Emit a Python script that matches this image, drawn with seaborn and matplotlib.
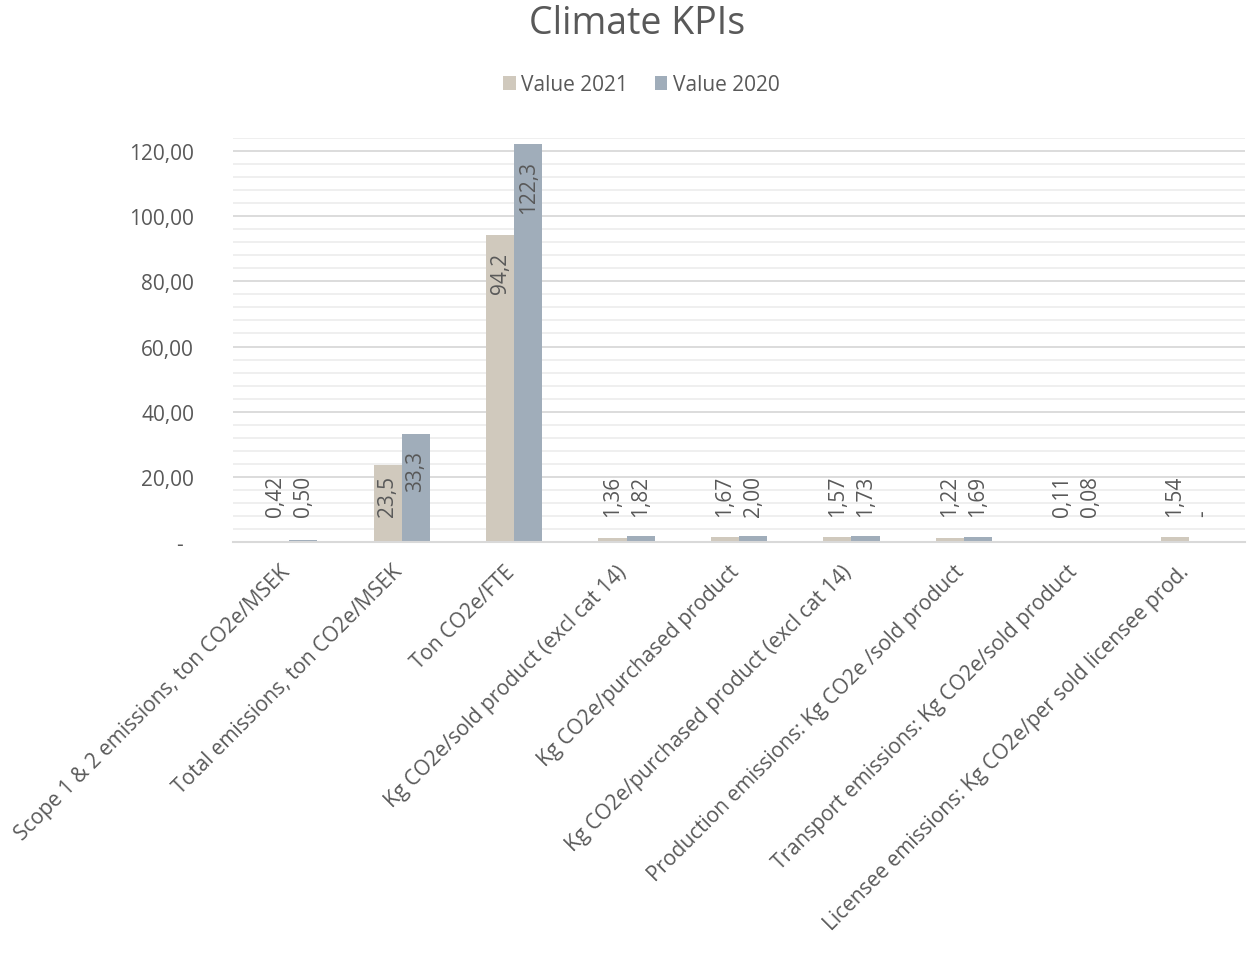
import matplotlib
matplotlib.use("Agg")
import matplotlib.pyplot as plt
import pandas as pd
import seaborn as sns
from matplotlib.ticker import MultipleLocator, FuncFormatter
from matplotlib.transforms import ScaledTranslation

# KPI categories and values per reporting year
categories = [
    "Scope 1 & 2 emissions, ton CO2e/MSEK",
    "Total emissions, ton CO2e/MSEK",
    "Ton CO2e/FTE",
    "Kg CO2e/sold product (excl cat 14)",
    "Kg CO2e/purchased product",
    "Kg CO2e/purchased product (excl cat 14)",
    "Production emissions: Kg CO2e /sold product",
    "Transport emissions: Kg CO2e/sold product",
    "Licensee emissions: Kg CO2e/per sold licensee prod.",
]
value_2021 = [0.42, 23.5, 94.2, 1.36, 1.67, 1.57, 1.22, 0.11, 1.54]
value_2020 = [0.50, 33.3, 122.3, 1.82, 2.00, 1.73, 1.69, 0.08, 0.0]
series_names = ["Value 2021", "Value 2020"]
series_colors = ["#D0C9BD", "#A0ADBA"]

df = pd.DataFrame({
    "KPI": categories * 2,
    "Series": [series_names[0]] * len(categories) + [series_names[1]] * len(categories),
    "Value": value_2021 + value_2020,
})

TEXT = "#595959"
FS = 15

sns.set_theme(style="white")
plt.rcParams["font.family"] = ["Open Sans", "DejaVu Sans"]

fig = plt.figure(figsize=(12.5, 9.54), dpi=100)
ax = fig.add_axes([0.1864, 0.4308, 0.8096, 0.4235])

sns.barplot(data=df, x="KPI", y="Value", hue="Series", palette=series_colors,
            width=0.5, saturation=1, errorbar=None, ax=ax, linewidth=0)

ax.set_ylim(0, 124)
ax.set_xlim(-0.5, len(categories) - 0.5)
ax.yaxis.set_major_locator(MultipleLocator(20))
ax.yaxis.set_minor_locator(MultipleLocator(4))


def axis_fmt(v, _pos):
    if abs(v) < 1e-9:
        return "-  "
    return f"{v:.2f}".replace(".", ",")


ax.yaxis.set_major_formatter(FuncFormatter(axis_fmt))
ax.set_axisbelow(True)
ax.grid(which="major", axis="y", color="#D9D9D9", linewidth=1.3)
ax.grid(which="minor", axis="y", color="#EEEEEE", linewidth=1.3)
ax.grid(axis="x", visible=False)
for side in ["top", "right", "left"]:
    ax.spines[side].set_visible(False)
ax.spines["bottom"].set_color("#D9D9D9")
ax.spines["bottom"].set_linewidth(1.5)
ax.tick_params(axis="both", which="both", length=0)
ax.tick_params(axis="y", pad=28, labelsize=FS, labelcolor=TEXT)
ax.tick_params(axis="x", pad=10, labelsize=15, labelcolor=TEXT)
ax.set_xlabel("")
ax.set_ylabel("")
shift = ScaledTranslation(-10 / 100, -5 / 100, fig.dpi_scale_trans)
for lab in ax.get_xticklabels():
    lab.set_rotation(45)
    lab.set_ha("right")
    lab.set_va("top")
    lab.set_rotation_mode("anchor")
    lab.set_transform(lab.get_transform() + shift)


def label_fmt(v):
    if abs(v) < 1e-9:
        return "-"
    return (f"{v:.1f}" if v >= 10 else f"{v:.2f}").replace(".", ",")


# value labels, rotated; tall bars carry them inside near the top
for container in ax.containers:
    for bar in container:
        v = bar.get_height()
        x = bar.get_x() + bar.get_width() / 2
        if v >= 30:
            ax.text(x, v - 5, label_fmt(v), rotation=90, ha="center", va="top",
                    fontsize=FS, color=TEXT)
        else:
            ax.text(x, 8, label_fmt(v), rotation=90, ha="center", va="bottom",
                    fontsize=FS, color=TEXT)

leg = ax.legend(loc="center", bbox_to_anchor=(0.513, 0.910), bbox_transform=fig.transFigure,
                ncol=2, frameon=False, fontsize=FS, handlelength=0.6, handleheight=0.6,
                handletextpad=0.25, columnspacing=1.3)
for t in leg.get_texts():
    t.set_color(TEXT)

fig.text(0.51, 0.975, "Climate KPIs", ha="center", va="center", fontsize=27, color=TEXT)

fig.savefig("out.png", dpi=100, facecolor="white")
